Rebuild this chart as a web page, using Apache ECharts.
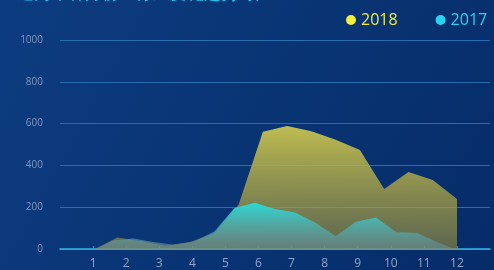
<!DOCTYPE html>
<html lang="zh">
  <head>
    <meta charset="UTF-8" />
    <title>月度趋势</title>
    <script src="https://cdnjs.cloudflare.com/ajax/libs/echarts/6.0.0/echarts.min.js"></script>
    <style>
      html, body { margin: 0; padding: 0; }
      #main { width: 494px; height: 270px; }
    </style>
  </head>
  <body>
    <div id="main"></div>
    <script>
      // 月份刻度
      var months = ["", "1", "2", "3", "4", "5", "6", "7", "8", "9", "10", "11", "12", ""];
      var yTicks = [0, 200, 400, 600, 800, 1000];
      // 2018 数据（16 个点）
      var data2018 = [0, 60, 42, 20, 38, 80, 215, 563, 590, 565, 525, 476, 290, 371, 333, 243];
      // 2017 数据（19 个点）
      var data2017 = [0, 45, 55, 38, 25, 40, 88, 200, 225, 195, 178, 130, 65, 135, 155, 84, 82, 38, 0];

      var myChart = echarts.init(document.getElementById("main"));
      var option = {
        backgroundColor: {
          type: "linear", x: 0, y: 0, x2: 1, y2: 1,
          colorStops: [
            { offset: 0, color: "#0c3c80" },
            { offset: 1, color: "#062c68" },
          ],
        },
        title: {
          text: "近两年各月份业务量变化趋势对比",
          left: 12,
          top: -19,
          textStyle: { color: "#1ec8f0", fontSize: 17, fontWeight: "normal" },
        },
        legend: {
          data: [
            { name: "2018", textStyle: { color: "#f2ee3a" } },
            { name: "2017", textStyle: { color: "#28d4f2" } },
          ],
          left: 341,
          top: 7,
          itemGap: 38,
          icon: "circle",
          itemWidth: 10,
          itemHeight: 10,
          textStyle: { fontSize: 16, fontFamily: "Open Sans" },
          selectedMode: false,
        },
        grid: [
          { left: 60, right: 4, top: 40, bottom: 20 },
          { left: 93, right: 37, top: 40, bottom: 20 },
        ],
        xAxis: [
          {
            type: "category",
            gridIndex: 0,
            data: months,
            boundaryGap: false,
            axisLine: { lineStyle: { color: "#33b6e6", width: 1.5 } },
            axisTick: { inside: true, length: 3, lineStyle: { color: "#4f86c0" },
              interval: function (i, v) { return v !== ""; } },
            axisLabel: { color: "#8ea6cc", fontSize: 12, margin: 9, fontFamily: "Open Sans" },
          },
          {
            type: "category",
            gridIndex: 1,
            data: data2018.map(function (v, i) { return i; }),
            boundaryGap: false,
            show: false,
          },
          {
            type: "category",
            gridIndex: 1,
            data: data2017.map(function (v, i) { return i; }),
            boundaryGap: false,
            show: false,
          },
        ],
        yAxis: [
          {
            type: "value",
            gridIndex: 0,
            min: yTicks[0],
            max: yTicks[yTicks.length - 1],
            interval: 200,
            axisLine: { show: false },
            axisTick: { show: false },
            axisLabel: { color: "#7f97c0", fontSize: 10, margin: 17, fontFamily: "Open Sans",
              formatter: function (v) { return String(v); } },
            splitLine: { lineStyle: { color: "#2a6cb0", width: 1 } },
          },
          {
            type: "value",
            gridIndex: 1,
            min: yTicks[0],
            max: yTicks[yTicks.length - 1],
            show: false,
            splitLine: { show: false },
          },
        ],
        series: [
          {
            name: "2018",
            type: "line",
            xAxisIndex: 1,
            yAxisIndex: 1,
            data: data2018,
            symbol: "none",
            itemStyle: { color: "#f2ee3a" },
            lineStyle: { width: 0 },
            areaStyle: {
              color: {
                type: "linear", x: 0, y: 0, x2: 0, y2: 1,
                colorStops: [
                  { offset: 0, color: "rgba(200,196,80,0.95)" },
                  { offset: 1, color: "rgba(150,140,60,0.6)" },
                ],
              },
              opacity: 1,
            },
          },
          {
            name: "2017",
            type: "line",
            xAxisIndex: 2,
            yAxisIndex: 1,
            data: data2017,
            symbol: "none",
            itemStyle: { color: "#28d4f2" },
            lineStyle: { width: 0 },
            areaStyle: {
              color: {
                type: "linear", x: 0, y: 0, x2: 0, y2: 1,
                colorStops: [
                  { offset: 0, color: "rgba(40,220,220,0.95)" },
                  { offset: 1, color: "rgba(110,140,150,0.55)" },
                ],
              },
              opacity: 1,
            },
          },
        ],
      };
      myChart.setOption(option);
    </script>
  </body>
</html>
